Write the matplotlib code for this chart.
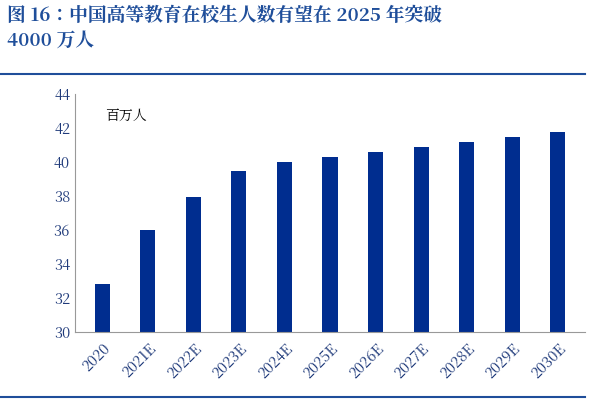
import matplotlib
matplotlib.use("Agg")
import matplotlib.pyplot as plt
from matplotlib import font_manager as fm

categories = ["2020","2021E","2022E","2023E","2024E","2025E","2026E","2027E","2028E","2029E","2030E"]
values = [32.85, 36.0, 37.95, 39.5, 40.0, 40.3, 40.6, 40.9, 41.15, 41.45, 41.75]
title = "图 16：中国高等教育在校生人数有望在 2025 年突破\n4000 万人"
unit = "百万人"

fams = []
for f in fm.findSystemFonts():
    if "CJK" in f or "cjk" in f.lower():
        try:
            fm.fontManager.addfont(f)
            n = fm.FontProperties(fname=f).get_name()
            if n not in fams:
                fams.append(n)
        except Exception:
            pass
pref = [n for n in fams if n.endswith("SC")] + fams
plt.rcParams["font.family"] = "sans-serif"
plt.rcParams["font.sans-serif"] = pref + ["Noto Sans CJK SC", "DejaVu Sans"]

blue = "#002D8F"
fig = plt.figure(figsize=(6, 4), dpi=100)
fig.text(0.012, 0.985, title, ha="left", va="top", fontsize=13.5, fontweight="bold",
         color="#1F4E9A", linespacing=1.35)
fig.add_artist(plt.Line2D([0.0, 0.975], [0.815, 0.815], color="#1F4E9A", lw=1.5))
fig.add_artist(plt.Line2D([0.0, 0.975], [0.008, 0.008], color="#1F4E9A", lw=1.5))

ax = fig.add_axes([0.125, 0.17, 0.85, 0.595])
x = range(len(categories))
ax.bar(x, values, width=0.33, color=blue)
ax.set_ylim(30, 44)
ax.set_yticks(range(30, 45, 2))
ax.set_xlim(-0.6, len(categories) - 0.4)
ax.set_xticks(list(x))
ax.set_xticklabels(categories, rotation=45, ha="right", rotation_mode="anchor")
ax.tick_params(axis="both", labelsize=10.5, colors="#1F3A7A", length=0)
ax.tick_params(axis="x", pad=6)
for s in ["top", "right"]:
    ax.spines[s].set_visible(False)
ax.spines["left"].set_color("#999999")
ax.spines["bottom"].set_color("#999999")
ax.text(0.06, 0.94, unit, transform=ax.transAxes, fontsize=10, ha="left", va="top")
fig.savefig("out.png", dpi=100)
